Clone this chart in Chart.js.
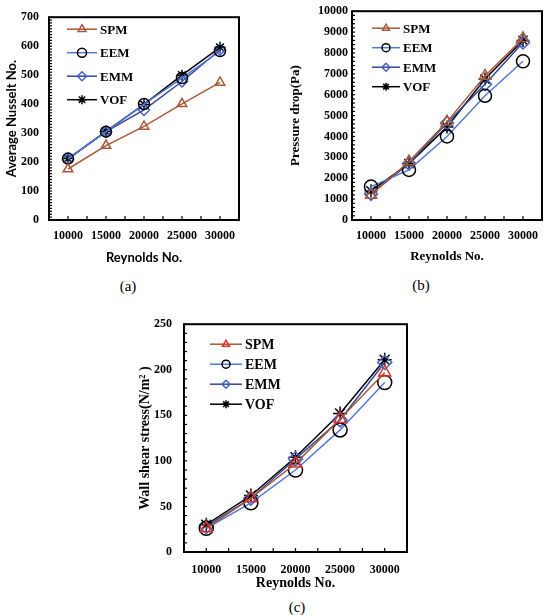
<!DOCTYPE html>
<html>
<head>
<meta charset="utf-8">
<script src="https://cdn.jsdelivr.net/npm/chart.js@4.4.0/dist/chart.umd.min.js"></script>
<style>
body{margin:0;background:#fff;width:550px;height:615px;position:relative;overflow:hidden}
.box{position:absolute}
.cap{position:absolute;font:15px "Liberation Serif",serif;color:#000;transform:translate(-50%,-50%)}
</style>
</head>
<body>
<div class="box" style="left:0;top:0;width:262px;height:270px"><canvas id="chartA"></canvas></div>
<div class="box" style="left:275px;top:0;width:275px;height:270px"><canvas id="chartB"></canvas></div>
<div class="box" style="left:130px;top:305px;width:290px;height:290px"><canvas id="chartC"></canvas></div>
<div class="cap" style="left:128px;top:286px">(a)</div>
<div class="cap" style="left:421px;top:285px">(b)</div>
<div class="cap" style="left:297px;top:607px">(c)</div>
<script>
'use strict';

// Reynolds numbers on the x axis
let reynolds = ['10000', '15000', '20000', '25000', '30000'];
let seriesNames = ['SPM', 'EEM', 'EMM', 'VOF'];

// (a) average Nusselt number
let nuSPM = [176, 257, 323, 401, 475];
let nuEEM = [212, 305, 400, 490, 583];
let nuEMM = [210, 305, 380, 478, 588];
let nuVOF = [212, 306, 399, 500, 596];
let nuTicks = [0, 100, 200, 300, 400, 500, 600, 700];

// (b) pressure drop (Pa)
let dpSPM = [1200, 2800, 4700, 6900, 8700];
let dpEEM = [1600, 2400, 4000, 5950, 7600];
let dpEMM = [1250, 2700, 4650, 6500, 8500];
let dpVOF = [1400, 2700, 4450, 6750, 8600];
let dpTicks = [0, 1000, 2000, 3000, 4000, 5000, 6000, 7000, 8000, 9000, 10000];

// (c) wall shear stress (N/m2)
let tauSPM = [26, 59, 97, 146, 197];
let tauEEM = [26, 54, 90, 134, 186];
let tauEMM = [28, 59, 102, 145, 208];
let tauVOF = [30, 62, 104, 152, 211];
let tauTicks = [0, 50, 100, 150, 200, 250];

let lineColors = ['#a65a3a', '#5577d6', '#34479a', '#000000'];
let markColors = ['#a65a3a', '#000000', '#4262c8', '#000000'];
let markShapes = ['triangle', 'circle', 'rectRot', 'star'];

const serifBold = "'Liberation Serif', 'Times New Roman', serif";

// frame, inward ticks and the legend inside the plot
let framePlugin = {
    id: 'frame',
    afterDraw(chart, args, opts) {
        let ctx = chart.ctx;
        let a = chart.chartArea;
        let xs = chart.scales.x;
        let ys = chart.scales.y;
        ctx.save();
        ctx.strokeStyle = '#000';
        ctx.lineWidth = 1.2;
        // x ticks at categories and halfway
        for (let i = 0; i < reynolds.length; i++) {
            let px = xs.getPixelForValue(i);
            ctx.beginPath(); ctx.moveTo(px, a.bottom); ctx.lineTo(px, a.bottom - 4); ctx.stroke();
            if (i < reynolds.length - 1) {
                let mx = (px + xs.getPixelForValue(i + 1)) / 2;
                ctx.beginPath(); ctx.moveTo(mx, a.bottom); ctx.lineTo(mx, a.bottom - 4); ctx.stroke();
            }
        }
        // y minor ticks
        for (let v = ys.min; v <= ys.max; v += opts.minor) {
            let py = ys.getPixelForValue(v);
            ctx.beginPath(); ctx.moveTo(a.left, py); ctx.lineTo(a.left + 3, py); ctx.stroke();
        }
        ctx.lineWidth = 2;
        ctx.strokeRect(a.left, a.top, a.right - a.left, a.bottom - a.top);

        // legend
        let lx = a.left + opts.lx;
        let ly = a.top + opts.ly;
        ctx.font = 'bold ' + opts.fontSize + 'px ' + serifBold;
        ctx.textBaseline = 'middle';
        ctx.fillStyle = '#000';
        chart.data.datasets.forEach(function (ds, i) {
            let y = ly + i * opts.gap;
            ctx.strokeStyle = ds.borderColor;
            ctx.lineWidth = 1.5;
            ctx.beginPath(); ctx.moveTo(lx, y); ctx.lineTo(lx + opts.len, y); ctx.stroke();
            ctx.strokeStyle = ds.pointBorderColor;
            ctx.fillStyle = 'rgba(0,0,0,0)';
            Chart.helpers.drawPoint(ctx, {pointStyle: ds.pointStyle, rotation: 0, radius: opts.mark, borderWidth: 1.5}, lx + opts.len / 2, y);
            ctx.fillStyle = '#000';
            ctx.fillText(ds.label, lx + opts.len + 3, y + 1);
        });
        ctx.restore();
    }
};

function makeSets(values, radius, markOverride) {
    let sets = [];
    for (let i = 0; i < values.length; i++) {
        let mc = (markOverride && markOverride[i]) || markColors[i];
        sets.push({
            label: seriesNames[i],
            data: values[i],
            borderColor: lineColors[i],
            borderWidth: 1.5,
            pointStyle: markShapes[i],
            pointRadius: radius,
            pointBorderColor: mc,
            pointBackgroundColor: 'rgba(0,0,0,0)',
            pointBorderWidth: 1.5,
            tension: 0
        });
    }
    return sets;
}

function makeChart(id, sets, ticks, s) {
    return new Chart(document.getElementById(id), {
        type: 'line',
        data: {labels: reynolds, datasets: sets},
        plugins: [framePlugin],
        options: {
            responsive: true,
            maintainAspectRatio: false,
            animation: false,
            layout: {padding: {left: 0, top: s.top, right: s.right, bottom: 0}},
            plugins: {
                legend: {display: false},
                tooltip: {enabled: false},
                frame: s.legend
            },
            scales: {
                x: {
                    offset: true,
                    grid: {display: false, drawTicks: false},
                    border: {display: false},
                    ticks: {color: '#000', padding: s.xPad, maxRotation: 0, autoSkip: false,
                        font: {family: serifBold, weight: 'bold', size: s.tickSize}},
                    title: {display: true, text: 'Reynolds No.', color: '#000',
                        padding: {top: 0, bottom: s.xTitlePad},
                        font: {family: s.xTitleFont, weight: 'bold', size: s.xTitleSize}},
                    afterFit: function (sc) { sc.height = s.xH; }
                },
                y: {
                    min: ticks[0],
                    max: ticks[ticks.length - 1],
                    grid: {display: false, drawTicks: false},
                    border: {display: false},
                    ticks: {stepSize: ticks[1] - ticks[0], color: '#000', padding: s.yPad,
                        callback: function (v) { return String(v); },
                        font: {family: serifBold, weight: 'bold', size: s.tickSize}},
                    title: {display: true, text: s.yTitle, color: '#000',
                        padding: {top: s.yTitlePad, bottom: 0},
                        font: {family: s.yTitleFont, weight: 'bold', size: s.yTitleSize}},
                    afterFit: function (sc) { sc.width = s.yW; }
                }
            }
        }
    });
}

makeChart('chartA', makeSets([nuSPM, nuEEM, nuEMM, nuVOF], 5.5), nuTicks, {
    top: 8, right: 23, xH: 50, yW: 49, xPad: 9, yPad: 10, tickSize: 12,
    xTitleFont: "Lato, 'Open Sans', sans-serif", xTitleSize: 13, xTitlePad: 4,
    yTitle: 'Average Nusselt No.', yTitleFont: "Lato, 'Open Sans', sans-serif", yTitleSize: 13, yTitlePad: 4,
    legend: {lx: 18, ly: 12, gap: 23.5, len: 30, mark: 4.5, fontSize: 13, minor: 10}
});

makeChart('chartB', makeSets([dpSPM, dpEEM, dpEMM, dpVOF], 6.5), dpTicks, {
    top: 8, right: 8, xH: 50, yW: 77, xPad: 9, yPad: 4, tickSize: 12,
    xTitleFont: serifBold, xTitleSize: 13, xTitlePad: 6,
    yTitle: 'Pressure drop(Pa)', yTitleFont: serifBold, yTitleSize: 13, yTitlePad: 13,
    legend: {lx: 20, ly: 17, gap: 19.5, len: 28, mark: 4, fontSize: 13, minor: 200}
});

makeChart('chartC', makeSets([tauSPM, tauEEM, tauEMM, tauVOF], 7, ['#e0302a']), tauTicks, {
    top: 7, right: 13, xH: 43, yW: 54, xPad: 11, yPad: 12, tickSize: 12,
    xTitleFont: serifBold, xTitleSize: 14, xTitlePad: 3,
    yTitle: 'Wall shear stress(N/m\u00B2 )', yTitleFont: serifBold, yTitleSize: 14, yTitlePad: 7,
    legend: {lx: 26, ly: 20, gap: 20, len: 32, mark: 4, fontSize: 14, minor: 10}
});
</script>
</body>
</html>
